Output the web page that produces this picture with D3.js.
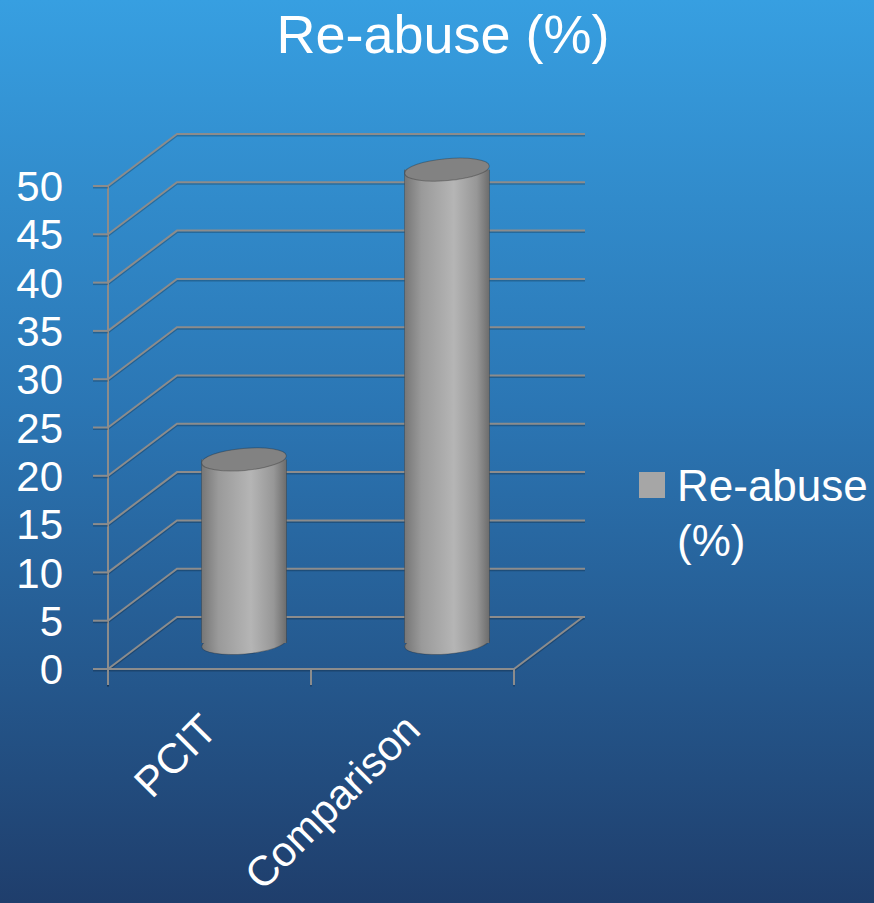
<!DOCTYPE html>
<html><head><meta charset="utf-8">
<script src="https://cdn.jsdelivr.net/npm/d3@7"></script>
<style>html,body{margin:0;padding:0;overflow:hidden;background:#2a6aa8}</style>
</head><body>
<script>
const title = "Re-abuse (%)";
const categories = ["PCIT", "Comparison"];
const values = [19, 49];
const seriesName = "Re-abuse (%)";
const yTicks = [0, 5, 10, 15, 20, 25, 30, 35, 40, 45, 50];

const W = 874, H = 903;
const svg = d3.select("body").append("svg").attr("width", W).attr("height", H);
const defs = svg.append("defs");

const bg = defs.append("linearGradient").attr("id", "bg").attr("x1", 0).attr("y1", 0).attr("x2", 0).attr("y2", 1);
bg.append("stop").attr("offset", "0%").attr("stop-color", "#379fe1");
bg.append("stop").attr("offset", "45%").attr("stop-color", "#2b76b4");
bg.append("stop").attr("offset", "100%").attr("stop-color", "#1f3e6c");
svg.append("rect").attr("width", W).attr("height", H).attr("fill", "url(#bg)");

const cyl = defs.append("linearGradient").attr("id", "cyl").attr("x1", 0).attr("y1", 0).attr("x2", 1).attr("y2", 0);
cyl.append("stop").attr("offset", "0%").attr("stop-color", "#767676");
cyl.append("stop").attr("offset", "20%").attr("stop-color", "#9a9a9a");
cyl.append("stop").attr("offset", "58%").attr("stop-color", "#b5b5b5");
cyl.append("stop").attr("offset", "85%").attr("stop-color", "#979797");
cyl.append("stop").attr("offset", "100%").attr("stop-color", "#6c6c6c");

const font = "'Liberation Sans', Arial, sans-serif";

// geometry
const x0 = 108, x1 = 514, yBottom = 669, yTop = 186;
const dx = 69, dy = -52, backRight = 585;
const y = d3.scaleLinear().domain([0, 50]).range([yBottom, yTop]);
const x = d3.scaleBand().domain(categories).range([x0, x1]).paddingInner(0).paddingOuter(0);

const gridColor = "#8c8c8c";
const g = svg.append("g");

function gl(pts) {
  const line = d3.line();
  g.append("path").attr("d", line(pts.map(p => [p[0], p[1] + 1.5]))).attr("fill", "none")
    .attr("stroke", "rgba(0,0,0,0.22)").attr("stroke-width", 2);
  g.append("path").attr("d", line(pts)).attr("fill", "none")
    .attr("stroke", gridColor).attr("stroke-width", 2);
}

// gridlines (left wall + back wall)
yTicks.forEach(t => {
  const yy = y(t);
  gl([[x0, yy], [x0 + dx, yy + dy], [backRight, yy + dy]]);
});
// floor right/front edges
gl([[x0, y(0)], [x1, y(0)], [x1 + dx, y(0) + dy]]);
// front vertical axis
gl([[x0, y(50)], [x0, y(0) + 16]]);
// y ticks
yTicks.forEach(t => gl([[x0 - 15, y(t)], [x0, y(t)]]));
// category ticks
[x0, x0 + x.bandwidth(), x1].forEach(xx => gl([[xx, y(0)], [xx, y(0) + 16]]));

// y labels
svg.append("g").selectAll("text").data(yTicks).join("text")
  .attr("x", 63).attr("y", d => y(d)).attr("dy", "0.36em")
  .attr("text-anchor", "end").attr("fill", "#fff")
  .attr("font-family", font).attr("font-size", 42).text(d => d);

// cylinders
const rx = 42.5, ry = 11, rot = -5;
const bars = svg.append("g");
categories.forEach((c, i) => {
  const cx = x(c) + x.bandwidth() / 2 + dx / 2;
  const yb = y(0) + dy / 2;
  const yt = y(values[i]) + dy / 2;
  const grp = bars.append("g");
  grp.append("ellipse").attr("cx", cx).attr("cy", yb).attr("rx", rx).attr("ry", ry)
    .attr("transform", `rotate(${rot},${cx},${yb})`)
    .attr("fill", "url(#cyl)").attr("stroke", "rgba(40,40,40,0.35)").attr("stroke-width", 1);
  grp.append("rect").attr("x", cx - rx).attr("y", yt).attr("width", rx * 2).attr("height", yb - yt)
    .attr("fill", "url(#cyl)");
  grp.append("line").attr("x1", cx - rx).attr("x2", cx - rx).attr("y1", yt).attr("y2", yb)
    .attr("stroke", "rgba(40,40,40,0.3)");
  grp.append("line").attr("x1", cx + rx).attr("x2", cx + rx).attr("y1", yt).attr("y2", yb)
    .attr("stroke", "rgba(40,40,40,0.3)");
  grp.append("ellipse").attr("cx", cx).attr("cy", yt).attr("rx", rx).attr("ry", ry)
    .attr("transform", `rotate(${rot},${cx},${yt})`)
    .attr("fill", "#828282").attr("stroke", "rgba(40,40,40,0.35)").attr("stroke-width", 1);
});

// category labels
svg.append("g").selectAll("text").data(categories).join("text")
  .attr("transform", d => `translate(${x(d) + x.bandwidth() / 2 + 10},${y(0) + 63}) rotate(-45)`)
  .attr("text-anchor", "end").attr("fill", "#fff")
  .attr("font-family", font).attr("font-size", 42).text(d => d);

// title
svg.append("text").attr("x", 443).attr("y", 53).attr("text-anchor", "middle")
  .attr("fill", "#fff").attr("font-family", font).attr("font-size", 54).text(title);

// legend
const lg = svg.append("g");
lg.append("rect").attr("x", 639).attr("y", 472).attr("width", 26).attr("height", 26).attr("fill", "#a6a6a6");
const words = seriesName.split(" ");
lg.append("text").attr("fill", "#fff").attr("font-family", font).attr("font-size", 44)
  .selectAll("tspan").data(words).join("tspan")
  .attr("x", 677).attr("y", (d, i) => 501 + i * 55).text(d => d);
</script>
</body></html>
